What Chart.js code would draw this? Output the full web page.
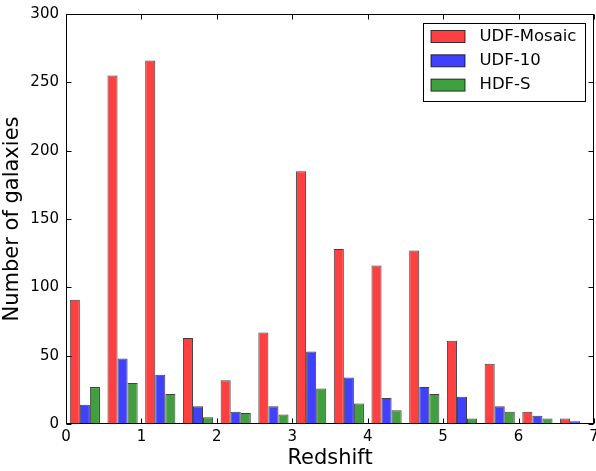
<!DOCTYPE html>
<html>
<head>
<meta charset="utf-8">
<script src="https://cdn.jsdelivr.net/npm/chart.js@4/dist/chart.umd.min.js"></script>
<style>
  html, body { margin: 0; padding: 0; background: #fff; }
  #wrap { width: 596px; height: 471px; }
</style>
</head>
<body>
<div id="wrap"><canvas id="c" width="596" height="471"></canvas></div>
<script>
// Redshift bins of width 0.5 from 0 to 7
const binLabels = ['0-0.5','0.5-1','1-1.5','1.5-2','2-2.5','2.5-3','3-3.5','3.5-4','4-4.5','4.5-5','5-5.5','5.5-6','6-6.5','6.5-7'];
const udfMosaic = [91, 255, 266, 63, 32, 67, 185, 128, 116, 127, 61, 44, 9, 4];
const udf10     = [14, 48, 36, 13, 9, 13, 53, 34, 19, 27, 20, 13, 6, 2];
const hdfS      = [27, 30, 22, 5, 8, 7, 26, 15, 10, 22, 4, 9, 4, 0];
const xTicks = [0, 1, 2, 3, 4, 5, 6, 7];
const yTicks = [0, 50, 100, 150, 200, 250, 300];

const FONT = 'DejaVu Sans';
const EDGE = 'rgba(0,0,0,0.75)';

// Axes frame with inward tick marks on all four sides
const framePlugin = {
  id: 'frame',
  afterDatasetsDraw(chart) {
    const { ctx, chartArea: a, scales } = chart;
    ctx.save();
    ctx.strokeStyle = '#000';
    ctx.lineWidth = 1;
    const L = Math.round(a.left) + 0.5, R = Math.round(a.right) - 0.5;
    const T = Math.round(a.top) + 0.5, B = Math.round(a.bottom) - 0.5;
    ctx.strokeRect(L, T, R - L, B - T);
    const len = 5;
    ctx.beginPath();
    xTicks.forEach(v => {
      const x = Math.round(scales.x2.getPixelForValue(v)) + 0.5;
      ctx.moveTo(x, B); ctx.lineTo(x, B - len);
      ctx.moveTo(x, T); ctx.lineTo(x, T + len);
    });
    yTicks.forEach(v => {
      const y = Math.round(scales.y.getPixelForValue(v)) + 0.5;
      ctx.moveTo(L, y); ctx.lineTo(L + len, y);
      ctx.moveTo(R, y); ctx.lineTo(R - len, y);
    });
    ctx.stroke();
    ctx.restore();
  }
};

// Boxed legend in the upper right corner of the plot
const boxLegendPlugin = {
  id: 'boxLegend',
  afterDraw(chart) {
    const { ctx, chartArea: a } = chart;
    const w = 162, h = 78;
    const x0 = Math.round(a.right) - 8.5 - w, y0 = Math.round(a.top) + 9.5;
    ctx.save();
    ctx.fillStyle = '#fff';
    ctx.fillRect(x0, y0, w, h);
    ctx.strokeStyle = '#000';
    ctx.lineWidth = 1;
    ctx.strokeRect(x0, y0, w, h);
    ctx.font = '16.5px "' + FONT + '"';
    ctx.textBaseline = 'middle';
    ctx.textAlign = 'left';
    chart.data.datasets.forEach((ds, i) => {
      const cy = y0 + 13 + i * 24.3;
      ctx.fillStyle = ds.backgroundColor;
      ctx.fillRect(x0 + 7.5, cy - 6, 34, 12);
      ctx.strokeStyle = EDGE;
      ctx.strokeRect(x0 + 7.5, cy - 6, 34, 12);
      ctx.fillStyle = '#000';
      ctx.fillText(ds.label, x0 + 56, cy);
    });
    ctx.restore();
  }
};

new Chart(document.getElementById('c'), {
  type: 'bar',
  data: {
    labels: binLabels,
    datasets: [
      { label: 'UDF-Mosaic', data: udfMosaic, backgroundColor: '#ff4040' },
      { label: 'UDF-10',     data: udf10,     backgroundColor: '#4040ff' },
      { label: 'HDF-S',      data: hdfS,      backgroundColor: '#40a040' }
    ].map(d => Object.assign(d, {
      borderColor: EDGE, borderWidth: 1, borderSkipped: 'start',
      categoryPercentage: 0.8, barPercentage: 1.0, xAxisID: 'x', yAxisID: 'y'
    }))
  },
  options: {
    responsive: false,
    animation: false,
    layout: { padding: { top: 14, right: 2, left: 0, bottom: 0 } },
    plugins: { legend: { display: false }, tooltip: { enabled: false } },
    scales: {
      x: { type: 'category', display: false, offset: true },
      x2: {
        type: 'linear', position: 'bottom', min: 0, max: 7, offset: false,
        grid: { display: false, drawTicks: false, offset: false }, border: { display: false },
        ticks: { stepSize: 1, padding: 4, color: '#000', font: { family: FONT, size: 15 } },
        title: { display: true, text: 'Redshift', color: '#000', padding: 0, font: { family: FONT, size: 21 } },
        afterFit(s) { s.height = 47; s.paddingLeft = 0; s.paddingRight = 0; }
      },
      y: {
        min: 0, max: 300,
        grid: { display: false, drawTicks: false }, border: { display: false },
        ticks: { stepSize: 50, padding: 7, color: '#000', font: { family: FONT, size: 15 } },
        title: { display: true, text: 'Number of galaxies', color: '#000', padding: 0, font: { family: FONT, size: 21 } },
        afterFit(s) { s.width = 66; s.paddingTop = 0; s.paddingBottom = 0; }
      }
    }
  },
  plugins: [framePlugin, boxLegendPlugin]
});
</script>
</body>
</html>
